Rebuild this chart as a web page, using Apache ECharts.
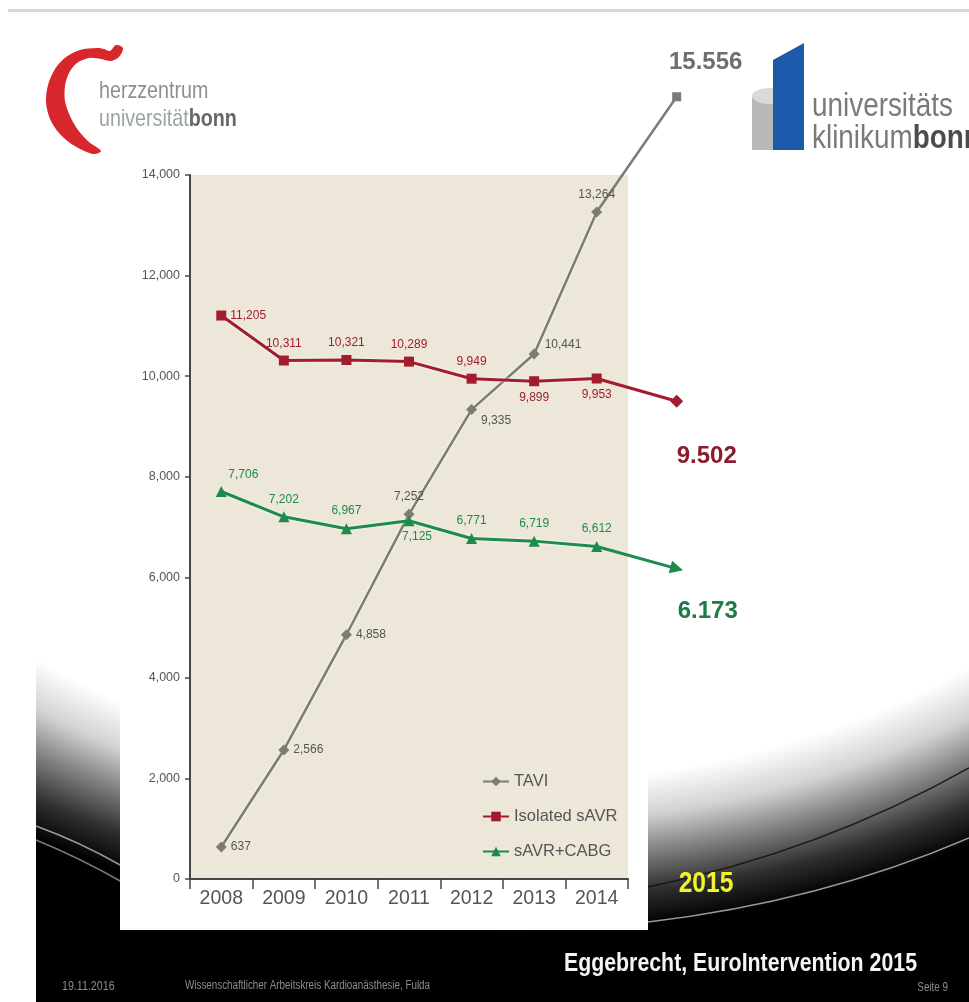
<!DOCTYPE html>
<html>
<head>
<meta charset="utf-8">
<title>TAVI vs. sAVR, Deutschland 2008–2015</title>
<script src="https://cdn.jsdelivr.net/npm/echarts@6/dist/echarts.min.js"></script>
<style>
  html, body { margin: 0; padding: 0; background: #ffffff; }
  #chart { width: 969px; height: 1002px; }
</style>
</head>
<body>
<div id="chart"></div>
<script>
// ---- data -------------------------------------------------------------
const years = ['2008', '2009', '2010', '2011', '2012', '2013', '2014'];
const extensionYears = [2014, 2015];
const yTicks = [0, 2000, 4000, 6000, 8000, 10000, 12000, 14000];

const tavi         = [637, 2566, 4858, 7252, 9335, 10441, 13264];
const isolatedSavr = [11205, 10311, 10321, 10289, 9949, 9899, 9953];
const savrCabg     = [7706, 7202, 6967, 7125, 6771, 6719, 6612];

const tavi2015         = 15556;
const isolatedSavr2015 = 9502;
const savrCabg2015     = 6173;

const seriesNames = ['TAVI', 'Isolated sAVR', 'sAVR+CABG'];

// ---- helpers ----------------------------------------------------------
const SANS = "'Liberation Sans', Arial, sans-serif";
const NARROW_X = 0.82;   // horizontal squeeze for free-standing slide text

function fmt(v, sep) {
  return String(v).replace(/\B(?=(\d{3})+(?!\d))/g, sep);
}

// where each small value label sits relative to its point
const place = {
  right:       { position: 'right', distance: 4 },
  rightLow:    { position: 'right', distance: 4, offset: [0, 11] },
  rightHigh:   { position: 'right', distance: 5, offset: [0, -9] },
  top:         { position: 'top', distance: 6 },
  bottom:      { position: 'bottom', distance: 5 },
  topRight:    { position: 'top', distance: 5, offset: [22, 0] },
  bottomRight: { position: 'bottom', distance: 4, offset: [8, 0] }
};
const taviPlace = ['right', 'right', 'right', 'top', 'rightLow', 'rightHigh', 'top'];
const savrPlace = ['right', 'top', 'top', 'top', 'top', 'bottom', 'bottom'];
const cabgPlace = ['topRight', 'top', 'top', 'bottomRight', 'top', 'top', 'top'];

const colors = {
  tavi: '#7c7c74',
  savr: '#a11d2d',
  cabg: '#1e8a4c'
};

function mainSeries(name, values, placement, color, symbol, size, width) {
  return {
    name: name,
    type: 'line',
    xAxisIndex: 0,
    yAxisIndex: 0,
    data: values.map((v, i) => ({ value: v, label: place[placement[i]] })),
    symbol: symbol,
    symbolSize: size,
    itemStyle: { color: color },
    lineStyle: { color: color, width: width, shadowColor: 'rgba(255,255,255,0.85)', shadowBlur: 3 },
    label: {
      show: true,
      fontFamily: SANS,
      fontSize: 12,
      color: color === colors.tavi ? '#555555' : color,
      formatter: p => fmt(p.value, ',')
    },
    emphasis: { disabled: true },
    animation: false
  };
}

function extensionSeries(name, startValue, endValue, color, symbol, size, rotate, width, labelColor, labelPos) {
  return {
    name: name,
    type: 'line',
    xAxisIndex: 1,
    yAxisIndex: 1,
    clip: false,
    data: [
      { value: [extensionYears[0], startValue], symbol: 'none', label: { show: false } },
      { value: [extensionYears[1], endValue], symbol: symbol, symbolSize: size, symbolRotate: rotate }
    ],
    itemStyle: { color: color },
    lineStyle: { color: color, width: width },
    label: Object.assign({
      show: true,
      fontFamily: SANS,
      fontWeight: 'bold',
      fontSize: 24,
      color: labelColor,
      formatter: p => fmt(p.value[1], '.')
    }, labelPos),
    emphasis: { disabled: true },
    animation: false
  };
}

// free-standing slide text, squeezed horizontally around its anchor
function slideText(x, y, text, font, fill, align, extra) {
  return Object.assign({
    type: 'text', z: 10, silent: true, x: x, y: y, scaleX: NARROW_X,
    style: { text: text, font: font, fill: fill, align: align || 'left', verticalAlign: 'middle' }
  }, extra || {});
}

// ---- slide decoration (background swoosh, logos, footer) ---------------
const heartOutline = [
  [97, 48], [80, 50], [66, 57], [55, 69], [48, 85], [46, 102], [50, 119], [59, 133],
  [73, 145], [93, 154], [101, 151], [89, 142], [78, 130], [70, 116], [65, 101],
  [65, 86], [69, 73], [77, 63], [89, 58], [101, 59], [111, 61], [119, 57], [123, 48],
  [116, 45], [110, 51], [104, 49]
];

const graphic = [
  // slide body with the dark lower swoosh
  { type: 'rect', z: -20, silent: true, shape: { x: 36, y: 18, width: 933, height: 984 }, style: { fill: '#000000' } },
  {
    type: 'circle', z: -19, silent: true,
    x: 510, y: 250, scaleX: 1.385, scaleY: 1,
    shape: { cx: 0, cy: 0, r: 682 },
    style: {
      fill: {
        type: 'radial', x: 0.5, y: 0.5, r: 0.5,
        colorStops: [
          { offset: 0, color: '#ffffff' },
          { offset: 0.78, color: '#ffffff' },
          { offset: 0.84, color: '#d2d2d2' },
          { offset: 0.89, color: '#858585' },
          { offset: 0.95, color: '#2e2e2e' },
          { offset: 1, color: '#000000' }
        ]
      }
    }
  },
  { type: 'bezierCurve', z: -18, silent: true, shape: { x1: 36, y1: 826, cpx1: 80, cpy1: 842, x2: 122, y2: 866 }, style: { stroke: 'rgba(200,200,200,0.75)', lineWidth: 1.5, fill: null } },
  { type: 'bezierCurve', z: -18, silent: true, shape: { x1: 36, y1: 840, cpx1: 80, cpy1: 858, x2: 122, y2: 882 }, style: { stroke: 'rgba(200,200,200,0.6)', lineWidth: 1.5, fill: null } },
  { type: 'bezierCurve', z: -18, silent: true, shape: { x1: 648, y1: 887, cpx1: 820, cpy1: 852, x2: 969, y2: 768 }, style: { stroke: 'rgba(20,20,20,0.9)', lineWidth: 1.5, fill: null } },
  { type: 'bezierCurve', z: -18, silent: true, shape: { x1: 648, y1: 922, cpx1: 820, cpy1: 902, x2: 969, y2: 838 }, style: { stroke: 'rgba(190,190,190,0.8)', lineWidth: 1.5, fill: null } },
  // page margin and top rule
  { type: 'rect', z: -17, silent: true, shape: { x: 0, y: 0, width: 36, height: 1002 }, style: { fill: '#ffffff' } },
  { type: 'rect', z: -17, silent: true, shape: { x: 8, y: 9, width: 961, height: 3 }, style: { fill: '#d6d6d6' } },
  // white chart panel
  { type: 'rect', z: -16, silent: true, shape: { x: 120, y: 163, width: 528, height: 767 }, style: { fill: '#ffffff' } },

  // herzzentrum logo
  { type: 'polygon', z: 5, silent: true, shape: { points: heartOutline, smooth: 0.3 }, style: { fill: '#d8262d' } },
  slideText(99, 91, 'herzzentrum', '24px ' + SANS, '#8f8f8f', 'left', { z: 5 }),
  {
    type: 'text', z: 5, silent: true, x: 99, y: 119, scaleX: NARROW_X,
    style: {
      text: '{a|universität}{b|bonn}', verticalAlign: 'middle',
      rich: {
        a: { fontFamily: SANS, fontSize: 24, fill: '#9aa3a6', color: '#9aa3a6' },
        b: { fontFamily: SANS, fontSize: 24, fontWeight: 'bold', fill: '#666666', color: '#666666' }
      }
    }
  },

  // universitätsklinikum logo
  { type: 'rect', z: 5, silent: true, shape: { x: 752, y: 96, width: 24, height: 54 }, style: { fill: '#b8b8b8' } },
  { type: 'circle', z: 5, silent: true, x: 770, y: 96, scaleX: 1, scaleY: 0.45, shape: { cx: 0, cy: 0, r: 18 }, style: { fill: '#d9d9d9' } },
  { type: 'polygon', z: 6, silent: true, shape: { points: [[773, 60], [804, 43], [804, 150], [773, 150]] }, style: { fill: '#1c5aab' } },
  slideText(812, 107, 'universitäts', '34px ' + SANS, '#7a7a7a', 'left', { z: 5 }),
  {
    type: 'text', z: 5, silent: true, x: 812, y: 139, scaleX: NARROW_X,
    style: {
      text: '{a|klinikum}{b|bonn}', verticalAlign: 'middle',
      rich: {
        a: { fontFamily: SANS, fontSize: 34, fill: '#7a7a7a', color: '#7a7a7a' },
        b: { fontFamily: SANS, fontSize: 34, fontWeight: 'bold', fill: '#4c4c4c', color: '#4c4c4c' }
      }
    }
  },

  // year marker for the projected point
  slideText(706, 884, '2015', 'bold 30px ' + SANS, '#f3f32c', 'center'),

  // footer
  slideText(917, 964, 'Eggebrecht, EuroIntervention 2015', 'bold 26px ' + SANS, '#f4f4f4', 'right'),
  slideText(62, 986, '19.11.2016', '13px ' + SANS, '#8c8c8c', 'left'),
  slideText(185, 986, 'Wissenschaftlicher Arbeitskreis Kardioanästhesie, Fulda', '12px ' + SANS, '#8c8c8c', 'left'),
  slideText(948, 988, 'Seite 9', '12px ' + SANS, '#8c8c8c', 'right')
];

// ---- chart ----------------------------------------------------------
const chart = echarts.init(document.getElementById('chart'), null, { renderer: 'canvas' });

const option = {
  backgroundColor: 'transparent',
  animation: false,
  textStyle: { fontFamily: SANS },
  graphic: graphic,
  grid: [
    { left: 190, top: 175, width: 438, height: 704, show: true, backgroundColor: '#ece7d8', borderWidth: 0, containLabel: false, outerBoundsMode: 'none' },
    { left: 596.7, top: 175, width: 80, height: 704, show: false, containLabel: false, outerBoundsMode: 'none' }
  ],
  xAxis: [
    {
      type: 'category', gridIndex: 0, data: years, boundaryGap: true,
      axisLine: { show: true, lineStyle: { color: '#474747', width: 2 } },
      axisTick: { show: true, interval: 0, length: 10, lineStyle: { color: '#474747', width: 1.5 } },
      axisLabel: { interval: 0, margin: 10, fontFamily: SANS, fontSize: 19.5, color: '#555555' },
      splitLine: { show: false }
    },
    {
      type: 'value', gridIndex: 1, min: extensionYears[0], max: extensionYears[1], show: false
    }
  ],
  yAxis: [
    {
      type: 'value', gridIndex: 0,
      min: yTicks[0], max: yTicks[yTicks.length - 1], interval: yTicks[1] - yTicks[0],
      axisLine: { show: true, lineStyle: { color: '#474747', width: 2 } },
      axisTick: { show: true, length: 5, lineStyle: { color: '#474747', width: 1.5 } },
      axisLabel: { margin: 10, fontFamily: SANS, fontSize: 12.5, color: '#555555', formatter: v => fmt(v, ',') },
      splitLine: { show: false }
    },
    {
      type: 'value', gridIndex: 1,
      min: yTicks[0], max: yTicks[yTicks.length - 1], show: false
    }
  ],
  legend: {
    data: seriesNames,
    orient: 'vertical',
    left: 477,
    top: 768,
    itemGap: 18,
    itemWidth: 26,
    itemHeight: 12,
    selectedMode: false,
    textStyle: { fontFamily: SANS, fontSize: 16.5, color: '#555555' }
  },
  series: [
    mainSeries(seriesNames[0], tavi, taviPlace, colors.tavi, 'diamond', 11, 2.5),
    mainSeries(seriesNames[1], isolatedSavr, savrPlace, colors.savr, 'rect', 10, 3),
    mainSeries(seriesNames[2], savrCabg, cabgPlace, colors.cabg, 'triangle', 11, 3),
    extensionSeries('TAVI 2015', tavi[6], tavi2015, colors.tavi, 'rect', 9, 0, 2.5, '#6e6e6e',
      { position: 'top', distance: 4, offset: [29, -14] }),
    extensionSeries('Isolated sAVR 2015', isolatedSavr[6], isolatedSavr2015, colors.savr, 'diamond', 13, 0, 3, '#8d1b2b',
      { position: 'bottom', distance: 4, offset: [30, 33] }),
    extensionSeries('sAVR+CABG 2015', savrCabg[6], savrCabg2015, colors.cabg, 'triangle', 13, -105, 3, '#1e7a46',
      { position: 'bottom', distance: 4, offset: [31, 19] })
  ]
};

chart.setOption(option);
</script>
</body>
</html>
